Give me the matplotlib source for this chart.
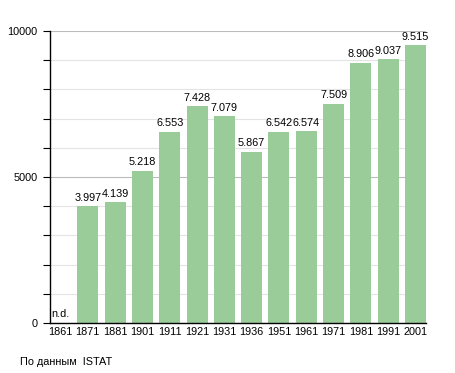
import matplotlib
matplotlib.use('Agg')
import matplotlib.pyplot as plt
from matplotlib.ticker import MultipleLocator

plt.rcParams['font.family'] = ['Liberation Sans', 'DejaVu Sans']

# dati censimenti
years = ['1861', '1871', '1881', '1901', '1911', '1921', '1931',
         '1936', '1951', '1961', '1971', '1981', '1991', '2001']
values = [0, 3997, 4139, 5218, 6553, 7428, 7079,
          5867, 6542, 6574, 7509, 8906, 9037, 9515]
labels = ['n.d.', '3.997', '4.139', '5.218', '6.553', '7.428', '7.079',
          '5.867', '6.542', '6.574', '7.509', '8.906', '9.037', '9.515']

bar_w = 0.77
fig = plt.figure(figsize=(4.55, 3.73), dpi=100)
ax = fig.add_axes([50/455, 1 - 323/373, 376/455, 292/373])

x = list(range(len(years)))
ax.bar(x, values, width=bar_w, align='edge', color='#99cc99', zorder=2)

for i, (v, lab) in enumerate(zip(values, labels)):
    if v == 0:
        ax.text(i + 0.05, 150, lab, ha='left', va='bottom', fontsize=7.8)
    else:
        ax.text(i + bar_w / 2, v + 120, lab, ha='center', va='bottom', fontsize=7.8)

ax.set_xlim(0, len(years) - 1 + bar_w)
ax.set_ylim(0, 10000)
ax.set_xticks([i + bar_w / 2 for i in x])
ax.set_xticklabels(years, fontsize=7.8)
ax.tick_params(axis='x', length=0, pad=3)

ax.yaxis.set_major_locator(MultipleLocator(5000))
ax.yaxis.set_minor_locator(MultipleLocator(1000))
ax.tick_params(axis='y', which='both', length=5, width=0.8, labelsize=7.8, pad=4)
ax.grid(axis='y', which='major', color='#bbbbbb', linewidth=0.8, zorder=0)
ax.grid(axis='y', which='minor', color='#e4e4e4', linewidth=0.8, zorder=0)
ax.set_axisbelow(True)

for s in ['top', 'right']:
    ax.spines[s].set_visible(False)
ax.spines['left'].set_linewidth(1)
ax.spines['bottom'].set_linewidth(1)

fig.text(20/455, 1 - 362/373, 'По данным  ISTAT', fontsize=7.8, va='center')

fig.savefig('out.png', dpi=100)
